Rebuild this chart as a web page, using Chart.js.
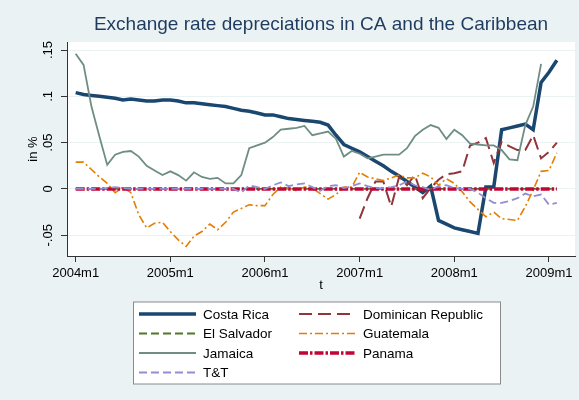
<!DOCTYPE html>
<html lang="en">
<head>
  <meta charset="UTF-8" />
  <title>Exchange rate depreciations</title>
  <script src="https://cdn.jsdelivr.net/npm/chart.js"></script>
  <style>
    html, body { margin: 0; padding: 0; background: #eaf2f3; }
    #wrap { width: 579px; height: 400px; }
  </style>
</head>
<body>
<div id="wrap"><canvas id="fxChart" width="579" height="400"></canvas></div>

<script>
  // monthly series, month 0 = 2004m1
  const xTickLabels = ['2004m1', '2005m1', '2006m1', '2007m1', '2008m1', '2009m1'];
  const yTicks = [-0.05, 0, 0.05, 0.1, 0.15];
  const yTickLabels = ['-.05', '0', '.05', '.1', '.15'];

  const costaRica = [
    0.104, 0.102, 0.101, 0.100, 0.099, 0.098, 0.096, 0.097, 0.096, 0.095, 0.095, 0.096,
    0.096, 0.095, 0.093, 0.093, 0.092, 0.091, 0.090, 0.089, 0.087, 0.085, 0.084, 0.082,
    0.080, 0.080, 0.078, 0.076, 0.075, 0.074, 0.073, 0.072, 0.069, 0.058, 0.048, 0.044,
    0.040, 0.035, 0.030, 0.025, 0.019, 0.014, 0.008, 0.002, -0.004, 0.003, -0.034, -0.038,
    -0.042, -0.044, -0.046, -0.048, 0.002, 0.002, 0.064, 0.066, 0.068, 0.070, 0.064, 0.115,
    0.126, 0.139
  ];
  const dominicanStart = 36;
  const dominican = [
    -0.032, -0.010, 0.008, 0.008, -0.019, 0.013, 0.004, 0.015, -0.010, 0.001, 0.010, 0.016,
    0.017, 0.019, 0.047, 0.050, 0.055, 0.028, 0.051, 0.046, 0.042, 0.042, 0.058, 0.033,
    0.040, 0.050
  ];
  const elSalvador = [
    0, 0, 0, 0, 0, 0, 0, 0, 0, 0, 0, 0,
    0, 0, 0, 0, 0, 0, 0, 0, 0, 0, 0, 0,
    0, 0, 0, 0, 0, 0, 0, 0, 0, 0, 0, 0,
    0, 0, 0, 0, 0, 0, 0, 0, 0, 0, 0, 0,
    0, 0, 0, 0, 0, 0, 0, 0, 0, 0, 0, 0,
    0, 0
  ];
  const guatemala = [
    0.029, 0.029, 0.021, 0.013, 0.006, -0.004, 0.002, -0.004, -0.028, -0.042, -0.037, -0.036,
    -0.046, -0.055, -0.062, -0.051, -0.046, -0.038, -0.044, -0.036, -0.025, -0.021, -0.017, -0.018,
    -0.018, -0.006, 0.002, 0.001, -0.002, 0.002, 0.001, -0.005, -0.011, -0.006, 0.002, 0.002,
    0.018, 0.013, 0.011, 0.009, 0.012, 0.015, 0.012, 0.012, 0.017, 0.013, 0.004, 0.011,
    0.006, -0.003, -0.014, -0.022, -0.030, -0.025, -0.032, -0.033, -0.034, -0.019, -0.001, 0.019,
    0.020, 0.039
  ];
  const jamaica = [
    0.146, 0.134, 0.089, 0.057, 0.026, 0.037, 0.040, 0.041, 0.035, 0.025, 0.020, 0.015,
    0.019, 0.015, 0.009, 0.018, 0.013, 0.011, 0.012, 0.006, 0.006, 0.015, 0.044, 0.047,
    0.050, 0.056, 0.064, 0.065, 0.066, 0.068, 0.058, 0.060, 0.062, 0.054, 0.035, 0.041,
    0.038, 0.033, 0.035, 0.037, 0.037, 0.037, 0.044, 0.057, 0.064, 0.069, 0.066, 0.054,
    0.064, 0.058, 0.049, 0.048, 0.047, 0.047, 0.042, 0.032, 0.031, 0.069, 0.089, 0.135
  ];
  const panama = [
    0, 0, 0, 0, 0, 0, 0, 0, 0, 0, 0, 0,
    0, 0, 0, 0, 0, 0, 0, 0, 0, 0, 0, 0,
    0, 0, 0, 0, 0, 0, 0, 0, 0, 0, 0, 0,
    0, 0, 0, 0, 0, 0, 0, 0, 0, 0, 0, 0,
    0, 0, 0, 0, 0, 0, 0, 0, 0, 0, 0, 0,
    0, 0
  ];
  const trinidad = [
    0.000, 0.000, 0.000, 0.000, 0.001, 0.002, 0.001, 0.000, 0.000, 0.000, 0.000, 0.000,
    0.000, 0.000, 0.000, 0.000, 0.000, 0.000, 0.000, 0.000, 0.000, -0.004, 0.004, 0.002,
    0.000, 0.004, 0.007, 0.003, 0.005, 0.006, 0.002, -0.002, 0.003, 0.004, 0.001, 0.003,
    0.006, 0.003, 0.001, 0.001, 0.002, 0.004, 0.008, 0.004, 0.002, -0.001, 0.003, 0.004,
    0.001, 0.000, 0.000, -0.004, -0.010, -0.015, -0.015, -0.013, -0.010, -0.005, -0.008, -0.006,
    -0.017, -0.015
  ];

  const FONT = '"Liberation Sans", Arial, sans-serif';

  const toPoints = (vals, start = 0) => vals.map((v, i) => ({ x: start + i, y: v }));

  const series = [
    { label: 'Costa Rica', data: toPoints(costaRica), color: '#1a476f', width: 3.5, dash: [] },
    { label: 'Dominican Republic', data: toPoints(dominican, dominicanStart), color: '#90353b', width: 2, dash: [13, 6] },
    { label: 'El Salvador', data: toPoints(elSalvador), color: '#55752f', width: 1.8, dash: [8, 4] },
    { label: 'Guatemala', data: toPoints(guatemala), color: '#e37e00', width: 1.6, dash: [8, 3, 2, 3] },
    { label: 'Jamaica', data: toPoints(jamaica), color: '#6e8e84', width: 1.8, dash: [] },
    { label: 'Panama', data: toPoints(panama), color: '#c10534', width: 3.5, dash: [9, 2, 2.5, 2] },
    { label: 'T&T', data: toPoints(trinidad), color: '#938dd2', width: 1.8, dash: [8, 4] }
  ];

  // background, title, y labels and the two-column legend box
  const decor = {
    id: 'decor',
    beforeDraw(chart) {
      const { ctx, chartArea: a } = chart;
      ctx.save();
      ctx.fillStyle = '#eaf2f3';
      ctx.fillRect(0, 0, chart.width, chart.height);
      ctx.fillStyle = '#ffffff';
      ctx.fillRect(a.left, a.top, a.right - a.left, a.bottom - a.top);
      ctx.restore();
    },
    afterDraw(chart) {
      const { ctx, chartArea: a } = chart;
      const y = chart.scales.y;
      ctx.save();

      ctx.fillStyle = '#1e3b5f';
      ctx.font = '19px ' + FONT;
      ctx.textAlign = 'center';
      ctx.textBaseline = 'alphabetic';
      ctx.fillText('Exchange rate depreciations in CA and the Caribbean', (a.left + a.right) / 2, 30);

      ctx.fillStyle = '#000';
      ctx.font = '13px ' + FONT;
      yTicks.forEach((v, i) => {
        ctx.save();
        ctx.translate(52, y.getPixelForValue(v));
        ctx.rotate(-Math.PI / 2);
        ctx.fillText(yTickLabels[i], 0, 0);
        ctx.restore();
      });
      ctx.save();
      ctx.translate(37, (a.top + a.bottom) / 2);
      ctx.rotate(-Math.PI / 2);
      ctx.fillText('in %', 0, 0);
      ctx.restore();

      // legend
      const bx = 133.5, by = 302, bw = 367, bh = 82;
      ctx.fillStyle = '#fff';
      ctx.fillRect(bx, by, bw, bh);
      ctx.strokeStyle = '#8a8a8a';
      ctx.lineWidth = 1;
      ctx.strokeRect(bx, by, bw, bh);

      const cols = [{ x0: 139, x1: 196, tx: 203 }, { x0: 299, x1: 355, tx: 363 }];
      const rows = [314, 333.5, 353, 372.5];
      ctx.textAlign = 'left';
      ctx.textBaseline = 'middle';
      ctx.font = '13.5px ' + FONT;
      series.forEach((s, i) => {
        const c = cols[i % 2], r = rows[Math.floor(i / 2)];
        ctx.strokeStyle = s.color;
        ctx.lineWidth = s.width;
        ctx.setLineDash(s.dash);
        ctx.beginPath();
        ctx.moveTo(c.x0, r);
        ctx.lineTo(c.x1, r);
        ctx.stroke();
        ctx.setLineDash([]);
        ctx.fillStyle = '#000';
        ctx.fillText(s.label, c.tx, r + 1);
      });
      ctx.restore();
    }
  };

  new Chart(document.getElementById('fxChart'), {
    type: 'line',
    data: {
      datasets: series.map((s, i) => ({
        label: s.label,
        data: s.data,
        borderColor: s.color,
        backgroundColor: s.color,
        borderWidth: s.width,
        borderDash: s.dash,
        pointRadius: 0,
        tension: 0,
        fill: false,
        order: series.length - i
      }))
    },
    options: {
      responsive: false,
      animation: false,
      devicePixelRatio: 1,
      layout: { padding: { left: 0, top: 42, right: 4, bottom: 100 } },
      plugins: { legend: { display: false }, tooltip: { enabled: false }, title: { display: false } },
      scales: {
        x: {
          type: 'linear',
          min: -1.1,
          max: 63.3,
          afterBuildTicks: s => { s.ticks = xTickLabels.map((_, i) => ({ value: i * 12 })); },
          ticks: {
            callback: v => xTickLabels[v / 12],
            font: { family: FONT, size: 13 },
            color: '#000',
            padding: 4,
            maxRotation: 0,
            autoSkip: false
          },
          grid: { drawOnChartArea: false, tickLength: 6, tickColor: '#333' },
          border: { color: '#333' },
          title: { display: true, text: 't', font: { family: FONT, size: 13 }, color: '#000', padding: { top: 0, bottom: 7 } },
          afterFit: s => { s.height = 44; }
        },
        y: {
          min: -0.0724,
          max: 0.1587,
          afterBuildTicks: s => { s.ticks = yTicks.map(v => ({ value: v })); },
          ticks: { display: false },
          grid: { color: '#eaf2f3', tickColor: '#333', tickLength: 6, lineWidth: 1 },
          border: { color: '#333' },
          afterFit: s => { s.width = 67; }
        }
      }
    },
    plugins: [decor]
  });
</script>
</body>
</html>
